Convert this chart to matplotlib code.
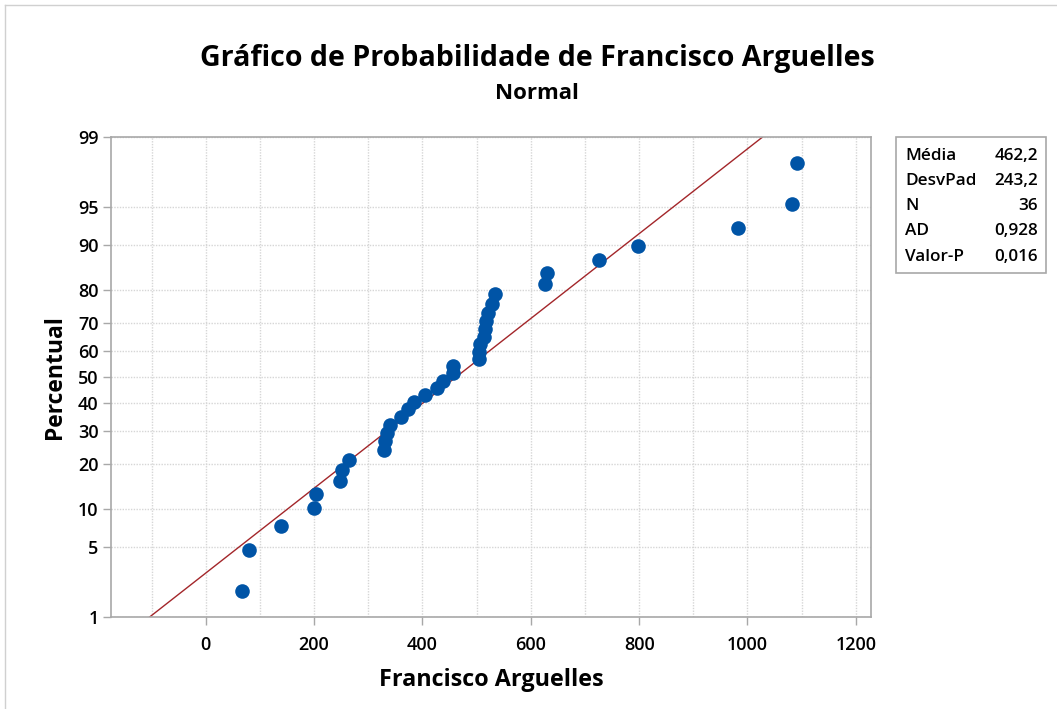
import matplotlib
matplotlib.use("Agg")
from matplotlib import pyplot as plt
from matplotlib.lines import Line2D
import numpy as np
from statistics import NormalDist

valores = [67, 80, 138, 199, 203, 247, 251, 264, 329, 330, 334, 341,
           361, 373, 384, 404, 426, 438, 456, 456, 504, 504, 507, 513,
           516, 518, 521, 529, 534, 626, 630, 725, 797, 982, 1083, 1091]

# summary stats shown in the box
media = 462.2
desvpad = 243.2
stats_nomes = ["Média", "DesvPad", "N", "AD", "Valor-P"]
stats_vals = ["462,2", "243,2", "36", "0,928", "0,016"]

y_ticks = [1, 5, 10, 20, 30, 40, 50, 60, 70, 80, 90, 95, 99]
x_ticks = [0, 200, 400, 600, 800, 1000, 1200]

FONT = "Open Sans"
plt.rcParams['font.family'] = [FONT, 'DejaVu Sans']

nd = NormalDist()
n = len(valores)
# median ranks (Minitab default) -> normal scores
pos = [(i + 1 - 0.3) / (n + 0.4) for i in range(n)]
z = [nd.inv_cdf(p) for p in pos]

fig = plt.figure(figsize=(10.57, 7.09), dpi=100)
ax = fig.add_axes([0.105, 0.1298, 0.719, 0.677])

# fitted line
zl = np.array([nd.inv_cdf(0.01), nd.inv_cdf(0.99)])
ax.plot(media + desvpad * zl, zl, color='#a3262a', lw=1.0, zorder=2)
ax.plot(valores, z, 'o', color='#0054a6', ms=10.5, mec='none', zorder=3)

ax.set_ylim(nd.inv_cdf(0.01), nd.inv_cdf(0.99))
ax.set_xlim(-175, 1228)
ax.set_yticks([nd.inv_cdf(v / 100) for v in y_ticks])
ax.set_yticklabels([str(v) for v in y_ticks])
ax.set_xticks(x_ticks)
ax.set_xticks(np.arange(-100, 1201, 100), minor=True)

ax.grid(True, which='both', axis='x', color='#d6d6d6', ls=(0, (1, 1)), lw=1.0)
ax.grid(True, which='major', axis='y', color='#d6d6d6', ls=(0, (1, 1)), lw=1.0)
ax.set_axisbelow(True)

for s in ax.spines.values():
    s.set_color('#a8a8a8')
    s.set_linewidth(1.2)
ax.tick_params(axis='both', which='major', direction='out', length=6, width=1,
               color='#a8a8a8', labelsize=13, labelcolor='black', pad=3)
ax.tick_params(axis='x', which='minor', length=0)
ax.tick_params(axis='x', pad=8)
for lb in ax.get_xticklabels() + ax.get_yticklabels():
    lb.set_fontweight('semibold')

ax.set_xlabel("Francisco Arguelles", fontsize=16.8, fontweight='bold', labelpad=10)
ax.set_ylabel("Percentual", fontsize=16.5, fontweight='bold', labelpad=8)

fig.text(0.508, 0.917, "Gráfico de Probabilidade de Francisco Arguelles",
         ha='center', va='center', fontsize=20.6, fontweight='bold')
fig.text(0.508, 0.868, "Normal", ha='center', va='center', fontsize=16, fontweight='bold')

# stats box
bx0, bx1 = 896 / 1057, 1046 / 1057
by0, by1 = 1 - 273 / 709, 1 - 137 / 709
fig.patches.append(plt.Rectangle((bx0, by0), bx1 - bx0, by1 - by0, transform=fig.transFigure,
                                 fill=False, ec='#a8a8a8', lw=1.2))
rows_y = [156, 181, 206, 231, 257]
for nome, val, yy in zip(stats_nomes, stats_vals, rows_y):
    fig.text(905 / 1057, 1 - yy / 709, nome, ha='left', va='center', fontsize=12.3, fontweight='semibold')
    fig.text(1038 / 1057, 1 - yy / 709, val, ha='right', va='center', fontsize=12.3, fontweight='semibold')

# outer frame (top and left edges visible)
fig.add_artist(Line2D([5 / 1057, 1], [1 - 5 / 709, 1 - 5 / 709], transform=fig.transFigure,
                      color='#d0d0d0', lw=1))
fig.add_artist(Line2D([5 / 1057, 5 / 1057], [0, 1 - 5 / 709], transform=fig.transFigure,
                      color='#d0d0d0', lw=1))

fig.savefig("out.png", dpi=100)
